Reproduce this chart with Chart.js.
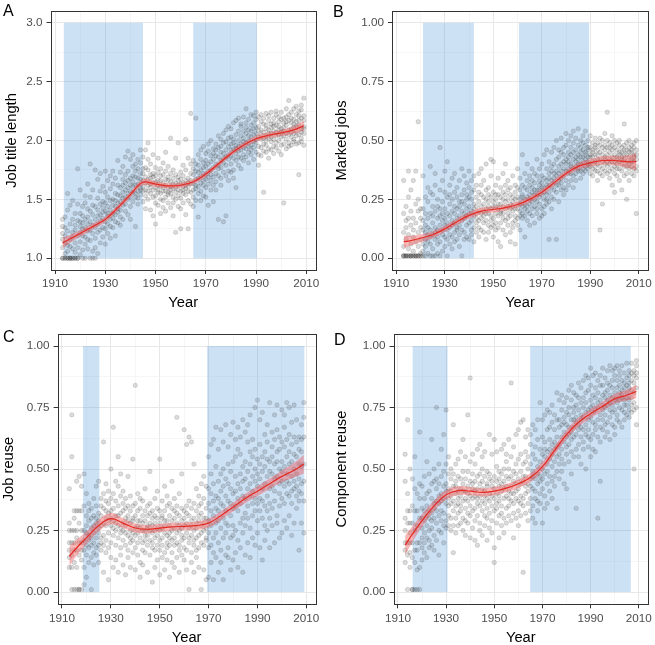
<!DOCTYPE html>
<html>
<head>
<meta charset="utf-8">
<script src="https://cdn.jsdelivr.net/npm/chart.js@4.4.1/dist/chart.umd.min.js"></script>
<style>
  html, body { margin: 0; padding: 0; background: #fff; overflow: hidden; }
  #wrap { position: relative; width: 655px; height: 645px; }
  #wrap canvas { position: absolute; }
</style>
</head>
<body>
<div id="wrap">
  <canvas id="panel-a" width="327" height="330" style="left:0;top:0"></canvas>
  <canvas id="panel-b" width="328" height="330" style="left:327px;top:0"></canvas>
  <canvas id="panel-c" width="327" height="330" style="left:0;top:322px"></canvas>
  <canvas id="panel-d" width="328" height="330" style="left:327px;top:322px"></canvas>
</div>
<script>
// ---- tick labels ----
const yearTicks = [1910, 1930, 1950, 1970, 1990, 2010];
const yearMinor = [1920, 1940, 1960, 1980, 2000];
const lengthTicks = [1, 1.5, 2, 2.5, 3];
const lengthMinor = [1.25, 1.75, 2.25, 2.75];
const shareTicks = [0, 0.25, 0.5, 0.75, 1];
const shareMinor = [0.125, 0.375, 0.625, 0.875];

// ---- shaded periods (start year, end year) ----
const erasA = [[1913.5, 1945], [1965, 1990.3]];
const erasB = [[1921, 1942], [1960.6, 1989.5]];
const erasC = [[1918.6, 1925.3], [1969.4, 2009.2]];
const erasD = [[1916.1, 1930.6], [1964.9, 2006.7]];

// ---- smoothed fit (loess) and its band half-width ----
const fitYears = [1913, 1916, 1920, 1925, 1930, 1935, 1940, 1945, 1950, 1955, 1960, 1965, 1970, 1975, 1980, 1985, 1990, 1995, 2000, 2005, 2009];
const fitA = [1.13, 1.165, 1.21, 1.27, 1.33, 1.43, 1.54, 1.645, 1.63, 1.615, 1.62, 1.65, 1.715, 1.80, 1.89, 1.96, 2.015, 2.045, 2.065, 2.09, 2.125];
const seA  = [0.045, 0.035, 0.028, 0.025, 0.024, 0.024, 0.024, 0.025, 0.024, 0.022, 0.022, 0.022, 0.024, 0.024, 0.024, 0.024, 0.025, 0.025, 0.027, 0.032, 0.042];
const fitB = [0.07, 0.075, 0.085, 0.10, 0.125, 0.155, 0.182, 0.20, 0.207, 0.215, 0.228, 0.25, 0.28, 0.32, 0.36, 0.39, 0.405, 0.415, 0.415, 0.41, 0.41];
const seB  = [0.026, 0.021, 0.017, 0.015, 0.014, 0.014, 0.014, 0.014, 0.013, 0.013, 0.013, 0.014, 0.014, 0.014, 0.014, 0.015, 0.016, 0.018, 0.02, 0.026, 0.036];
const fitC = [0.145, 0.18, 0.22, 0.27, 0.298, 0.28, 0.26, 0.255, 0.26, 0.265, 0.267, 0.27, 0.28, 0.31, 0.345, 0.38, 0.41, 0.44, 0.47, 0.495, 0.52];
const seC  = [0.04, 0.032, 0.026, 0.024, 0.023, 0.02, 0.018, 0.017, 0.016, 0.016, 0.016, 0.017, 0.018, 0.018, 0.018, 0.019, 0.02, 0.021, 0.024, 0.03, 0.038];
const fitD = [0.19, 0.235, 0.29, 0.35, 0.395, 0.412, 0.41, 0.405, 0.41, 0.422, 0.44, 0.465, 0.51, 0.575, 0.64, 0.69, 0.725, 0.755, 0.785, 0.80, 0.815];
const seD  = [0.04, 0.032, 0.026, 0.022, 0.02, 0.018, 0.017, 0.017, 0.017, 0.017, 0.017, 0.018, 0.019, 0.019, 0.019, 0.019, 0.019, 0.019, 0.02, 0.022, 0.027];

// ---- observations: [year, values...] ----
const titleLength = [
  [1913, 1.00, 1.00, 1.09, 1.21, 1.16, 1.27, 1.33], [1914, 1.00, 1.00, 1.04, 1.13, 1.26, 1.35, 1.19],
  [1915, 1.00, 1.00, 1.11, 1.06, 1.23, 1.41, 1.55], [1916, 1.00, 1.00, 1.00, 1.16, 1.29, 1.10, 1.45],
  [1917, 1.00, 1.00, 1.22, 1.08, 1.33, 1.18, 1.49], [1918, 1.00, 1.00, 1.13, 1.28, 1.05, 1.38, 1.24],
  [1919, 1.00, 1.00, 1.19, 1.32, 1.09, 1.76, 1.46], [1920, 1.14, 1.03, 1.27, 1.38, 1.22, 1.58, 1.31],
  [1921, 1.00, 1.19, 1.07, 1.30, 1.44, 1.25, 1.36], [1922, 1.00, 1.12, 1.26, 1.47, 1.18, 1.33, 1.53],
  [1923, 1.08, 1.23, 1.35, 1.16, 1.42, 1.63, 1.29], [1924, 1.00, 1.15, 1.31, 1.80, 1.24, 1.40, 1.52],
  [1925, 1.00, 1.06, 1.21, 1.37, 1.45, 1.28, 1.58], [1926, 1.00, 1.17, 1.33, 1.09, 1.75, 1.44, 1.26],
  [1927, 1.04, 1.22, 1.36, 1.29, 1.51, 1.67, 1.41], [1928, 1.13, 1.32, 1.24, 1.46, 1.37, 1.57, 1.72],
  [1929, 1.18, 1.26, 1.43, 1.34, 1.61, 1.48, 1.39], [1930, 1.12, 1.31, 1.25, 1.47, 1.74, 1.40, 1.56],
  [1931, 1.21, 1.36, 1.29, 1.52, 1.44, 1.66, 1.38], [1932, 1.17, 1.41, 1.33, 1.59, 1.49, 1.27, 1.70],
  [1933, 1.26, 1.38, 1.50, 1.45, 1.63, 1.34, 1.74], [1934, 1.19, 1.44, 1.37, 1.55, 1.68, 1.49, 1.31],
  [1935, 1.30, 1.42, 1.54, 1.47, 1.62, 1.83, 1.39], [1936, 1.35, 1.48, 1.41, 1.60, 1.53, 1.73, 1.28],
  [1937, 1.33, 1.56, 1.45, 1.67, 1.51, 1.78, 1.62], [1938, 1.40, 1.52, 1.64, 1.46, 1.86, 1.58, 1.71],
  [1939, 1.37, 1.60, 1.50, 1.74, 1.91, 1.55, 1.66], [1940, 1.44, 1.57, 1.68, 1.33, 1.84, 1.62, 1.52],
  [1941, 1.48, 1.65, 1.56, 1.78, 1.88, 1.61, 1.70], [1942, 1.27, 1.55, 1.69, 1.62, 1.80, 1.52, 1.74],
  [1943, 1.51, 1.63, 1.57, 1.76, 1.68, 1.84, 1.46], [1944, 1.54, 1.67, 1.60, 1.81, 1.72, 1.92, 1.58],
  [1945, 1.48, 1.61, 1.72, 1.66, 1.86, 1.57, 1.76], [1946, 1.42, 1.58, 1.69, 1.77, 1.64, 1.92, 1.53],
  [1947, 1.57, 1.50, 1.67, 1.75, 1.98, 1.62, 1.84], [1948, 1.41, 1.55, 1.71, 1.63, 1.80, 1.60, 1.68],
  [1949, 1.52, 1.36, 1.64, 1.72, 1.58, 1.88, 1.69], [1950, 1.29, 1.60, 1.53, 1.70, 1.65, 1.77, 1.47],
  [1951, 1.45, 1.66, 1.58, 1.73, 1.56, 1.85, 1.62], [1952, 1.38, 1.55, 1.70, 1.61, 1.76, 1.50, 1.66],
  [1953, 1.49, 1.64, 1.57, 1.71, 1.81, 1.43, 1.60], [1954, 1.40, 1.57, 1.67, 1.52, 1.74, 1.90, 1.62],
  [1955, 1.54, 1.47, 1.66, 1.60, 1.78, 1.69, 1.56], [1956, 1.43, 1.61, 1.55, 1.72, 1.65, 2.02, 1.58],
  [1957, 1.36, 1.52, 1.68, 1.59, 1.75, 1.63, 1.47], [1958, 1.22, 1.56, 1.64, 1.50, 1.71, 1.85, 1.60],
  [1959, 1.44, 1.62, 1.53, 1.69, 1.58, 1.98, 1.66], [1960, 1.25, 1.51, 1.63, 1.57, 1.73, 1.67, 1.42],
  [1961, 1.47, 1.58, 1.70, 1.64, 1.55, 1.79, 1.61], [1962, 1.37, 1.54, 1.66, 1.59, 1.75, 2.01, 1.62],
  [1963, 1.25, 1.57, 1.49, 1.68, 1.61, 1.85, 1.64], [1964, 1.46, 1.63, 1.56, 1.72, 1.66, 2.23, 1.80],
  [1965, 1.52, 1.71, 1.44, 1.83, 1.63, 1.58, 1.76], [1966, 1.67, 1.49, 1.80, 2.19, 1.59, 1.74, 1.62],
  [1967, 1.35, 1.73, 1.61, 1.88, 1.68, 1.55, 1.79], [1968, 1.70, 1.57, 1.84, 1.64, 1.92, 1.49, 1.75],
  [1969, 1.62, 1.81, 1.53, 1.72, 1.95, 1.66, 1.77], [1970, 1.78, 1.60, 1.89, 1.71, 1.52, 1.83, 1.67],
  [1971, 1.45, 1.74, 1.91, 1.63, 1.80, 1.69, 1.97], [1972, 1.82, 1.66, 1.58, 1.87, 1.75, 2.00, 1.71],
  [1973, 1.69, 1.93, 1.77, 1.48, 1.84, 1.62, 1.89], [1974, 1.87, 1.72, 1.97, 1.65, 1.80, 1.92, 1.58],
  [1975, 1.33, 1.79, 1.94, 1.70, 2.04, 1.86, 1.76], [1976, 1.90, 1.68, 1.83, 2.01, 1.77, 1.62, 1.95],
  [1977, 1.31, 1.85, 1.73, 1.98, 1.81, 2.06, 1.89], [1978, 1.36, 1.92, 1.79, 2.09, 1.86, 1.70, 1.99],
  [1979, 1.84, 2.02, 1.74, 1.95, 1.88, 2.12, 1.66], [1980, 1.97, 1.80, 2.10, 1.87, 1.73, 2.03, 1.92],
  [1981, 1.75, 1.93, 2.15, 1.85, 2.01, 1.68, 1.98], [1982, 2.05, 1.89, 1.60, 1.96, 2.17, 1.83, 1.93],
  [1983, 1.91, 2.08, 1.79, 2.00, 2.19, 1.86, 1.95], [1984, 2.12, 1.85, 1.97, 2.04, 1.76, 2.14, 1.92],
  [1985, 1.99, 1.83, 2.08, 1.94, 2.20, 2.02, 1.88], [1986, 1.93, 2.27, 2.06, 1.86, 2.11, 1.98, 2.15],
  [1987, 2.09, 1.90, 2.00, 2.18, 1.81, 2.04, 1.95], [1988, 1.96, 2.13, 1.88, 2.22, 2.03, 1.92, 2.08],
  [1989, 2.05, 1.84, 2.15, 1.99, 2.10, 2.21, 1.94], [1990, 1.98, 2.18, 2.06, 1.90, 2.24, 2.01, 2.11],
  [1991, 2.12, 1.79, 2.03, 2.20, 1.95, 2.08, 1.88], [1992, 1.94, 2.09, 2.16, 2.01, 1.87, 2.22, 2.05],
  [1993, 1.56, 2.07, 1.97, 2.14, 2.02, 2.19, 1.91], [1994, 2.10, 1.96, 2.23, 2.04, 1.90, 2.13, 2.00],
  [1995, 2.02, 2.17, 1.93, 2.09, 2.21, 1.85, 2.06], [1996, 2.14, 1.99, 2.06, 2.24, 1.92, 2.11, 2.03],
  [1997, 1.95, 2.12, 2.19, 2.01, 2.08, 1.89, 2.15], [1998, 2.07, 2.22, 1.98, 2.13, 2.04, 2.25, 1.94],
  [1999, 2.16, 1.91, 2.09, 2.00, 2.20, 2.05, 2.12], [2000, 2.03, 2.18, 1.96, 2.24, 2.10, 1.88, 2.07],
  [2001, 1.47, 2.11, 2.04, 2.19, 1.97, 2.15, 2.08], [2002, 2.20, 2.01, 2.13, 1.93, 2.27, 2.06, 2.16],
  [2003, 2.09, 2.34, 1.98, 2.17, 2.05, 2.22, 1.95], [2004, 2.15, 2.03, 2.24, 2.10, 1.96, 2.19, 2.07],
  [2005, 2.01, 2.18, 2.11, 2.27, 2.06, 1.99, 2.14], [2006, 2.22, 2.08, 1.97, 2.16, 2.29, 2.04, 2.12],
  [2007, 1.71, 2.13, 2.21, 2.05, 2.17, 1.98, 2.25], [2008, 2.10, 2.26, 2.02, 2.19, 2.07, 2.30, 1.99],
  [2009, 2.17, 2.06, 2.36, 2.12, 2.21, 1.96, 2.10]
];

const markedJobs = [
  [1913, .01, .01, .01, .05, .11, .19, .33], [1914, .01, .01, .01, .08, .13, .22, .16],
  [1915, .01, .01, .04, .10, .17, .26, .37], [1916, .01, .01, .01, .06, .14, .20, .29],
  [1917, .01, .01, .03, .12, .17, .33, .09], [1918, .01, .01, .01, .07, .15, .23, .37],
  [1919, .01, .01, .05, .11, .20, .25, .58], [1920, .01, .01, .02, .08, .13, .21, .17],
  [1921, .01, .03, .12, .21, .06, .16, .35], [1922, .01, .14, .08, .26, .19, .05, .11],
  [1923, .02, .10, .24, .17, .07, .30, .13], [1924, .01, .06, .19, .12, .28, .39, .09],
  [1925, .04, .15, .22, .10, .01, .18, .27], [1926, .01, .08, .13, .31, .20, .36, .11],
  [1927, .06, .17, .25, .02, .12, .09, .22], [1928, .01, .14, .21, .07, .47, .29, .18],
  [1929, .10, .03, .16, .24, .33, .12, .19], [1930, .05, .21, .14, .09, .28, .17, .37],
  [1931, .12, .01, .19, .41, .26, .08, .15], [1932, .18, .06, .23, .13, .31, .10, .27],
  [1933, .09, .20, .04, .16, .25, .34, .14], [1934, .15, .28, .11, .22, .07, .19, .36],
  [1935, .21, .13, .30, .08, .17, .26, .12], [1936, .10, .24, .18, .33, .14, .05, .22],
  [1937, .16, .01, .27, .20, .38, .12, .24], [1938, .23, .11, .17, .29, .08, .35, .19],
  [1939, .14, .27, .21, .09, .32, .18, .25], [1940, .19, .08, .26, .15, .37, .22, .30],
  [1941, .25, .12, .20, .33, .16, .28, .10], [1942, .18, .29, .13, .23, .35, .07, .21],
  [1943, .22, .15, .31, .11, .26, .19, .17], [1944, .13, .24, .20, .36, .09, .28, .16],
  [1945, .27, .17, .22, .12, .31, .19, .38], [1946, .20, .11, .26, .33, .15, .23, .18],
  [1947, .16, .29, .21, .08, .25, .40, .19], [1948, .24, .14, .30, .19, .22, .11, .27],
  [1949, .18, .26, .13, .35, .21, .42, .16], [1950, .22, .09, .28, .17, .41, .24, .14],
  [1951, .15, .25, .19, .31, .12, .22, .27], [1952, .21, .13, .27, .18, .34, .07, .23],
  [1953, .26, .19, .05, .23, .15, .30, .20], [1954, .12, .28, .22, .17, .36, .25, .19],
  [1955, .24, .16, .31, .21, .10, .27, .40], [1956, .19, .29, .14, .25, .22, .33, .17],
  [1957, .27, .11, .23, .18, .30, .21, .07], [1958, .15, .24, .20, .35, .26, .13, .22],
  [1959, .28, .18, .25, .06, .21, .31, .16], [1960, .21, .30, .17, .26, .23, .38, .14],
  [1961, .25, .12, .29, .20, .34, .18, .23], [1962, .17, .27, .22, .44, .19, .31, .26],
  [1963, .30, .21, .09, .25, .36, .23, .18], [1964, .22, .33, .26, .16, .29, .40, .20],
  [1965, .27, .19, .35, .23, .14, .31, .25], [1966, .18, .30, .24, .38, .21, .28, .33],
  [1967, .32, .22, .27, .15, .36, .25, .29], [1968, .24, .35, .19, .29, .42, .27, .21],
  [1969, .29, .17, .33, .26, .23, .38, .31], [1970, .21, .32, .27, .40, .18, .30, .35],
  [1971, .34, .25, .30, .22, .44, .28, .19], [1972, .27, .38, .23, .33, .31, .46, .25],
  [1973, .08, .31, .36, .28, .41, .24, .34], [1974, .33, .26, .39, .30, .21, .37, .45],
  [1975, .29, .40, .34, .25, .47, .32, .36], [1976, .37, .08, .31, .42, .28, .35, .50],
  [1977, .31, .43, .36, .24, .39, .33, .46], [1978, .40, .34, .29, .45, .37, .51, .32],
  [1979, .35, .47, .41, .30, .38, .44, .27], [1980, .42, .33, .48, .37, .40, .29, .53],
  [1981, .38, .45, .31, .41, .50, .36, .43], [1982, .44, .36, .40, .52, .33, .47, .39],
  [1983, .35, .49, .42, .38, .45, .30, .54], [1984, .46, .39, .43, .36, .51, .41, .33],
  [1985, .40, .48, .37, .44, .42, .55, .38], [1986, .43, .34, .47, .40, .50, .45, .37],
  [1987, .49, .41, .38, .46, .43, .52, .36], [1988, .39, .45, .48, .42, .54, .37, .44],
  [1989, .47, .40, .43, .50, .38, .46, .41], [1990, .36, .43, .47, .40, .52, .44, .39],
  [1991, .45, .38, .41, .49, .35, .46, .43], [1992, .41, .47, .37, .44, .51, .39, .48],
  [1993, .33, .44, .40, .46, .42, .49, .37], [1994, .12, .42, .48, .39, .45, .36, .51],
  [1995, .44, .38, .23, .47, .41, .50, .35], [1996, .40, .46, .43, .37, .53, .42, .48],
  [1997, .47, .39, .62, .44, .41, .36, .50], [1998, .37, .45, .42, .49, .34, .47, .40],
  [1999, .43, .48, .38, .41, .46, .52, .31], [2000, .41, .36, .50, .44, .28, .47, .39],
  [2001, .46, .40, .43, .35, .49, .42, .38], [2002, .38, .45, .41, .48, .33, .44, .50],
  [2003, .43, .37, .47, .40, .45, .29, .42], [2004, .35, .46, .42, .57, .39, .44, .48],
  [2005, .44, .39, .25, .46, .41, .36, .49], [2006, .40, .47, .43, .38, .45, .33, .50],
  [2007, .45, .36, .48, .42, .39, .46, .41], [2008, .38, .44, .41, .49, .35, .43, .47],
  [2009, .19, .42, .46, .39, .50, .44, .37]
];

const jobReuse = [
  [1913, .42, .25, .17, .10, .20, .28, .14], [1914, .72, .55, .01, .25, .15, .10, .20],
  [1915, .01, .25, .33, .17, .12, .20, .30], [1916, .01, .17, .25, .33, .45, .10, .22],
  [1917, .01, .01, .20, .28, .15, .33, .47], [1918, .01, .13, .20, .25, .33, .17, .43],
  [1919, .03, .10, .17, .25, .35, .48, .21], [1920, .06, .24, .15, .31, .19, .40, .27],
  [1921, .18, .29, .12, .36, .23, .21, .33], [1922, .01, .26, .19, .34, .14, .30, .22],
  [1923, .24, .11, .31, .20, .38, .27, .16], [1924, .15, .28, .35, .22, .43, .18, .30],
  [1925, .26, .19, .32, .12, .45, .24, .29], [1926, .31, .22, .17, .38, .27, .35, .20],
  [1927, .08, .28, .34, .61, .23, .40, .19], [1928, .33, .21, .27, .44, .16, .30, .37],
  [1929, .05, .29, .36, .24, .41, .18, .32], [1930, .27, .38, .20, .33, .50, .14, .30],
  [1931, .34, .23, .67, .29, .40, .10, .26], [1932, .19, .31, .45, .25, .37, .28, .13],
  [1933, .35, .08, .27, .55, .22, .31, .43], [1934, .26, .39, .18, .32, .48, .24, .15],
  [1935, .21, .33, .28, .11, .41, .25, .36], [1936, .30, .07, .24, .38, .19, .27, .34],
  [1937, .17, .29, .47, .23, .35, .14, .31], [1938, .28, .20, .33, .10, .39, .25, .22],
  [1939, .24, .35, .16, .54, .29, .21, .30], [1940, .31, .18, .84, .26, .09, .36, .23],
  [1941, .20, .29, .40, .15, .27, .33, .24], [1942, .26, .12, .34, .22, .38, .06, .29],
  [1943, .17, .31, .25, .37, .20, .28, .11], [1944, .29, .21, .42, .16, .33, .25, .23],
  [1945, .23, .35, .08, .27, .19, .31, .26], [1946, .32, .15, .49, .25, .21, .36, .28],
  [1947, .04, .27, .20, .33, .24, .18, .30], [1948, .25, .38, .17, .22, .31, .10, .28],
  [1949, .19, .30, .41, .26, .13, .34, .23], [1950, .28, .07, .54, .21, .33, .25, .17],
  [1951, .22, .37, .26, .14, .30, .19, .31], [1952, .33, .16, .43, .27, .09, .24, .29],
  [1953, .20, .29, .35, .18, .39, .23, .13], [1954, .27, .06, .31, .24, .36, .19, .22],
  [1955, .16, .34, .25, .45, .21, .29, .12], [1956, .30, .22, .38, .19, .26, .10, .33],
  [1957, .24, .71, .28, .14, .32, .20, .35], [1958, .19, .31, .08, .40, .25, .27, .17],
  [1959, .29, .23, .48, .15, .34, .21, .26], [1960, .22, .66, .27, .33, .13, .30, .18],
  [1961, .32, .17, .60, .24, .09, .28, .35], [1962, .01, .26, .63, .20, .31, .22, .37],
  [1963, .27, .34, .61, .16, .23, .12, .29], [1964, .21, .30, .52, .25, .08, .36, .19],
  [1965, .33, .14, .42, .28, .22, .26, .17], [1966, .18, .29, .39, .23, .35, .10, .31],
  [1967, .01, .27, .44, .20, .32, .24, .36], [1968, .25, .38, .09, .30, .47, .19, .28],
  [1969, .30, .05, .43, .22, .34, .26, .21], [1970, .06, .36, .18, .55, .29, .42, .24],
  [1971, .40, .12, .27, .60, .19, .33, .48], [1972, .05, .31, .44, .22, .62, .37, .16],
  [1973, .28, .51, .14, .39, .67, .24, .34], [1974, .45, .20, .33, .08, .58, .29, .38],
  [1975, .17, .36, .66, .26, .48, .12, .41], [1976, .35, .05, .50, .30, .22, .61, .43],
  [1977, .24, .46, .15, .68, .33, .39, .28], [1978, .52, .18, .37, .27, .59, .44, .14],
  [1979, .31, .64, .22, .42, .09, .36, .49], [1980, .40, .27, .69, .13, .34, .53, .23],
  [1981, .16, .47, .35, .62, .25, .41, .55], [1982, .44, .21, .58, .33, .67, .10, .38],
  [1983, .28, .56, .36, .18, .48, .63, .42], [1984, .08, .39, .51, .30, .70, .24, .45],
  [1985, .46, .32, .65, .15, .53, .38, .27], [1986, .35, .61, .20, .49, .42, .68, .30],
  [1987, .52, .26, .72, .39, .14, .44, .57], [1988, .22, .47, .36, .62, .31, .55, .41],
  [1989, .50, .33, .75, .19, .45, .58, .38], [1990, .29, .54, .43, .78, .24, .48, .36],
  [1991, .46, .18, .60, .38, .52, .70, .33], [1992, .13, .42, .55, .30, .73, .49, .37],
  [1993, .51, .27, .64, .44, .35, .57, .21], [1994, .39, .61, .25, .47, .68, .33, .54],
  [1995, .18, .53, .42, .77, .36, .49, .30], [1996, .48, .34, .59, .27, .65, .43, .55],
  [1997, .41, .62, .20, .52, .72, .37, .46], [1998, .57, .31, .47, .66, .28, .53, .76],
  [1999, .35, .50, .63, .22, .44, .58, .40], [2000, .53, .24, .45, .74, .38, .61, .49],
  [2001, .43, .59, .29, .51, .67, .36, .72], [2002, .62, .40, .55, .26, .48, .77, .45],
  [2003, .31, .52, .44, .64, .39, .57, .75], [2004, .47, .23, .60, .41, .69, .36, .53],
  [2005, .56, .42, .28, .50, .63, .45, .76], [2006, .39, .61, .48, .34, .55, .43, .70],
  [2007, .17, .46, .58, .37, .63, .52, .41], [2008, .51, .28, .44, .68, .40, .57, .62],
  [2009, .37, .63, .45, .71, .24, .52, .77]
];

const componentReuse = [
  [1913, .56, .20, .30, .12, .25, .45, .17], [1914, .01, .70, .28, .33, .20, .15, .40],
  [1915, .24, .16, .33, .10, .50, .28, .20], [1916, .01, .01, .14, .28, .35, .46, .20],
  [1917, .01, .17, .25, .33, .55, .12, .42], [1918, .01, .09, .17, .27, .33, .40, .20],
  [1919, .01, .10, .20, .30, .38, .65, .44], [1920, .18, .34, .26, .43, .13, .30, .22],
  [1921, .29, .20, .38, .24, .47, .16, .33], [1922, .35, .14, .27, .53, .31, .22, .40],
  [1923, .21, .41, .33, .25, .48, .30, .18], [1924, .38, .26, .62, .19, .32, .44, .29],
  [1925, .30, .45, .23, .36, .17, .50, .34], [1926, .42, .28, .75, .37, .21, .33, .46],
  [1927, .25, .39, .52, .31, .44, .15, .36], [1928, .47, .33, .24, .58, .40, .29, .37],
  [1929, .32, .64, .43, .27, .38, .49, .20], [1930, .44, .36, .74, .29, .41, .52, .26],
  [1931, .35, .48, .27, .42, .55, .38, .31], [1932, .50, .30, .41, .36, .25, .46, .39],
  [1933, .16, .43, .68, .37, .48, .33, .27], [1934, .40, .52, .30, .45, .35, .24, .43],
  [1935, .36, .27, .47, .41, .54, .32, .38], [1936, .46, .33, .39, .28, .57, .42, .35],
  [1937, .30, .44, .62, .37, .49, .25, .41], [1938, .41, .55, .34, .46, .29, .38, .23],
  [1939, .37, .28, .72, .43, .32, .49, .40], [1940, .45, .87, .31, .39, .53, .35, .22],
  [1941, .33, .42, .48, .26, .38, .56, .44], [1942, .39, .29, .45, .52, .34, .41, .21],
  [1943, .47, .36, .19, .42, .58, .31, .38], [1944, .28, .44, .39, .60, .35, .48, .25],
  [1945, .42, .33, .50, .37, .23, .45, .55], [1946, .36, .47, .31, .41, .57, .27, .39],
  [1947, .44, .21, .38, .49, .34, .43, .30], [1948, .32, .46, .64, .40, .26, .37, .48],
  [1949, .39, .29, .43, .35, .56, .45, .24], [1950, .12, .18, .47, .38, .62, .33, .42],
  [1951, .45, .36, .28, .51, .40, .57, .34], [1952, .31, .43, .49, .37, .22, .46, .39],
  [1953, .48, .27, .41, .58, .35, .44, .32], [1954, .38, .50, .30, .45, .60, .24, .42],
  [1955, .43, .34, .53, .39, .28, .47, .56], [1956, .35, .46, .62, .41, .31, .50, .38],
  [1957, .47, .85, .37, .55, .29, .43, .40], [1958, .40, .32, .49, .59, .22, .45, .36],
  [1959, .52, .38, .44, .30, .64, .48, .41], [1960, .37, .66, .46, .27, .54, .42, .33],
  [1961, .49, .39, .69, .44, .31, .56, .36], [1962, .08, .45, .70, .38, .52, .35, .47],
  [1963, .43, .57, .32, .63, .47, .40, .53], [1964, .50, .36, .66, .44, .29, .55, .41],
  [1965, .46, .60, .38, .52, .33, .64, .43], [1966, .35, .49, .68, .42, .56, .30, .47],
  [1967, .54, .41, .28, .59, .46, .66, .38], [1968, .44, .62, .37, .51, .70, .33, .48],
  [1969, .58, .40, .77, .47, .36, .53, .45], [1970, .28, .50, .63, .42, .56, .70, .46],
  [1971, .55, .39, .61, .72, .48, .34, .58], [1972, .44, .66, .52, .36, .74, .57, .49],
  [1973, .62, .47, .58, .73, .41, .54, .67], [1974, .51, .69, .38, .60, .76, .45, .56],
  [1975, .66, .53, .72, .47, .61, .43, .58], [1976, .34, .63, .81, .55, .70, .49, .59],
  [1977, .70, .56, .46, .67, .78, .60, .52], [1978, .58, .74, .63, .49, .80, .54, .68],
  [1979, .65, .52, .77, .61, .71, .44, .69], [1980, .42, .68, .56, .79, .63, .73, .59],
  [1981, .72, .60, .82, .53, .67, .75, .64], [1982, .57, .78, .65, .84, .48, .70, .62],
  [1983, .75, .63, .70, .55, .81, .67, .73], [1984, .34, .71, .80, .64, .58, .76, .69],
  [1985, .68, .85, .60, .74, .66, .79, .55], [1986, .77, .63, .83, .70, .52, .72, .67],
  [1987, .61, .79, .71, .86, .66, .58, .75], [1988, .73, .50, .88, .68, .77, .64, .81],
  [1989, .66, .82, .74, .59, .87, .70, .63], [1990, .78, .62, .91, .71, .55, .75, .84],
  [1991, .69, .80, .64, .76, .88, .58, .73], [1992, .74, .57, .83, .68, .79, .89, .66],
  [1993, .30, .77, .70, .86, .63, .75, .81], [1994, .45, .72, .84, .67, .78, .88, .61],
  [1995, .80, .66, .74, .91, .70, .84, .76], [1996, .63, .79, .87, .72, .68, .81, .75],
  [1997, .76, .90, .69, .82, .65, .78, .85], [1998, .71, .84, .77, .62, .92, .74, .80],
  [1999, .86, .73, .79, .68, .83, .90, .76], [2000, .67, .81, .74, .88, .78, .64, .91],
  [2001, .79, .72, .92, .83, .70, .86, .77], [2002, .75, .88, .69, .81, .90, .78, .84],
  [2003, .82, .74, .92, .79, .86, .67, .80], [2004, .70, .85, .78, .89, .76, .83, .73],
  [2005, .87, .79, .93, .72, .84, .81, .76], [2006, .78, .90, .83, .74, .88, .71, .85],
  [2007, .82, .76, .93, .86, .79, .89, .73], [2008, .50, .88, .81, .90, .77, .85, .74],
  [2009, .89, .75, .94, .83, .68, .87, .92]
];

const FONT = "'Liberation Sans', Arial, Helvetica, sans-serif";

function asTicks(major, minor) {
  return major.map(v => ({ value: v, minor: false }))
    .concat(minor.map(v => ({ value: v, minor: true })))
    .sort((a, b) => a.value - b.value);
}

const gridOpts = {
  color: c => (c.tick && c.tick.minor) ? '#F0F0F0' : '#E8E8E8',
  lineWidth: c => (c.tick && c.tick.minor) ? 0.6 : 1,
  tickColor: c => (c.tick && c.tick.minor) ? 'rgba(0,0,0,0)' : '#333333',
  tickLength: 4,
  tickWidth: 1,
  drawTicks: true
};

function panelPlugin(p) {
  return {
    id: 'panelExtras' + p.tag,
    beforeDatasetsDraw(chart) {
      const { ctx, chartArea: a, scales: { x, y } } = chart;
      ctx.save();
      ctx.beginPath();
      ctx.rect(a.left, a.top, a.width, a.height);
      ctx.clip();
      ctx.fillStyle = 'rgba(62, 140, 215, 0.26)';
      const yt = y.getPixelForValue(p.rectTop);
      const yb = y.getPixelForValue(p.rectBottom);
      p.eras.forEach(([s, e]) => {
        const xl = x.getPixelForValue(s);
        const xr = x.getPixelForValue(e);
        ctx.fillRect(xl, yt, xr - xl, yb - yt);
      });
      ctx.restore();
    },
    afterDraw(chart) {
      const { ctx, chartArea: a } = chart;
      ctx.save();
      ctx.strokeStyle = '#333333';
      ctx.lineWidth = 1;
      ctx.strokeRect(Math.round(a.left) + 0.5, Math.round(a.top) + 0.5,
                     Math.round(a.right) - Math.round(a.left), Math.round(a.bottom) - Math.round(a.top));
      ctx.fillStyle = '#000';
      ctx.font = '16px ' + FONT;
      ctx.textBaseline = 'alphabetic';
      ctx.fillText(p.tag, p.tagX, p.tagY);
      ctx.restore();
    }
  };
}

function makePanel(p) {
  const points = [];
  p.rows.forEach(r => {
    for (let i = 1; i < r.length; i++) points.push({ x: r[0], y: r[i] });
  });
  const fit = fitYears.map((yr, i) => ({ x: yr, y: p.fit[i] }));
  const upper = fitYears.map((yr, i) => ({ x: yr, y: p.fit[i] + p.se[i] }));
  const lower = fitYears.map((yr, i) => ({ x: yr, y: p.fit[i] - p.se[i] }));

  const canvas = document.getElementById(p.id);
  const H = canvas.height;

  new Chart(canvas, {
    type: 'scatter',
    data: {
      datasets: [
        { type: 'line', data: fit, borderColor: '#E62A22', borderWidth: 1.2, pointRadius: 0,
          tension: 0.4, fill: false, order: 1 },
        { type: 'line', data: upper, borderWidth: 0, borderColor: 'rgba(0,0,0,0)', pointRadius: 0,
          tension: 0.4, fill: '+1', backgroundColor: 'rgba(240, 80, 80, 0.42)', order: 2 },
        { type: 'line', data: lower, borderWidth: 0, borderColor: 'rgba(0,0,0,0)', pointRadius: 0,
          tension: 0.4, fill: false, order: 2 },
        { type: 'scatter', data: points, pointRadius: 2.2,
          backgroundColor: 'rgba(40,40,40,0.16)', borderColor: 'rgba(40,40,40,0.2)', borderWidth: 0.7, order: 3 }
      ]
    },
    options: {
      responsive: false,
      animation: false,
      events: [],
      layout: { padding: { left: 0, right: canvas.width - p.right, top: p.top, bottom: H - p.bottom - 45 } },
      plugins: { legend: { display: false }, tooltip: { enabled: false } },
      scales: {
        x: {
          type: 'linear', min: 1908.2, max: 2013.8,
          afterBuildTicks: s => { s.ticks = asTicks(yearTicks, yearMinor); },
          afterFit: s => { s.height = 45; },
          border: { display: false },
          grid: gridOpts,
          ticks: {
            autoSkip: false, maxRotation: 0, padding: 3, color: '#4D4D4D',
            font: { family: FONT, size: 11.7 },
            callback: (v, i, t) => t[i].minor ? '' : String(v)
          },
          title: { display: true, text: 'Year', color: '#000', font: { family: FONT, size: 14.7 },
                   padding: { top: 0, bottom: 3 } }
        },
        y: {
          type: 'linear', min: p.yMin, max: p.yMax,
          afterBuildTicks: s => { s.ticks = asTicks(p.yTicks, p.yMinor); },
          afterFit: s => { s.width = p.left; },
          border: { display: false },
          grid: gridOpts,
          ticks: {
            autoSkip: false, padding: 4, color: '#4D4D4D',
            font: { family: FONT, size: 11.7 },
            callback: (v, i, t) => t[i].minor ? '' : v.toFixed(p.digits)
          },
          title: { display: true, text: p.ylab, color: '#000', font: { family: FONT, size: 14.7 },
                   padding: { top: p.titlePad, bottom: 0 } }
        }
      }
    },
    plugins: [panelPlugin(p)]
  });
}

makePanel({ id: 'panel-a', tag: 'A', tagX: 3, tagY: 16, rows: titleLength, fit: fitA, se: seA,
  eras: erasA, rectBottom: 1, rectTop: 3, yMin: 0.9, yMax: 3.1, yTicks: lengthTicks, yMinor: lengthMinor,
  digits: 1, ylab: 'Job title length', left: 50.5, right: 315.9, top: 0.5, bottom: 270, titlePad: 3 });

makePanel({ id: 'panel-b', tag: 'B', tagX: 6, tagY: 17, rows: markedJobs, fit: fitB, se: seB,
  eras: erasB, rectBottom: 0, rectTop: 1, yMin: -0.05, yMax: 1.05, yTicks: shareTicks, yMinor: shareMinor,
  digits: 2, ylab: 'Marked jobs', left: 65, right: 322, top: 0.5, bottom: 270, titlePad: 6 });

makePanel({ id: 'panel-c', tag: 'C', tagX: 3, tagY: 20, rows: jobReuse, fit: fitC, se: seC,
  eras: erasC, rectBottom: 0, rectTop: 1, yMin: -0.05, yMax: 1.05, yTicks: shareTicks, yMinor: shareMinor,
  digits: 2, ylab: 'Job reuse', left: 57.6, right: 315.6, top: 11.7, bottom: 282.3, titlePad: 0.5 });

makePanel({ id: 'panel-d', tag: 'D', tagX: 7, tagY: 23, rows: componentReuse, fit: fitD, se: seD,
  eras: erasD, rectBottom: 0, rectTop: 1, yMin: -0.05, yMax: 1.05, yTicks: shareTicks, yMinor: shareMinor,
  digits: 2, ylab: 'Component reuse', left: 66.6, right: 321.9, top: 11.7, bottom: 282.3, titlePad: 6 });
</script>
</body>
</html>
